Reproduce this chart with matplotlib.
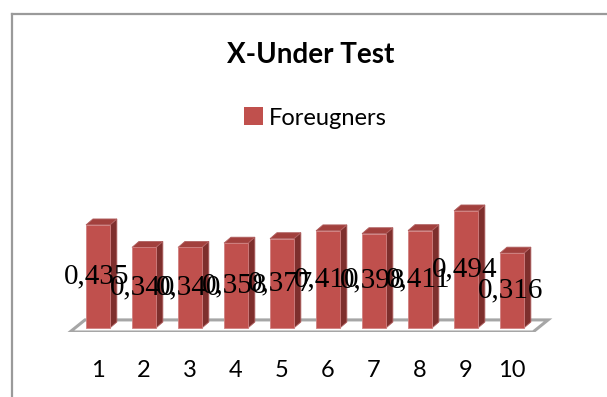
import matplotlib.pyplot as plt
from matplotlib.patches import Polygon, Patch
from matplotlib.lines import Line2D
import numpy as np

# data
categories = ["1", "2", "3", "4", "5", "6", "7", "8", "9", "10"]
values = [0.435, 0.340, 0.340, 0.358, 0.377, 0.410, 0.398, 0.411, 0.494, 0.316]
series_name = "Foreugners"
title = "X-Under Test"

# 3d look
bar_w = 0.52
depth_x = 0.15
depth_y = 0.025
front_col = "#C0504D"
top_col = "#A2403D"
side_col = "#7E2F2D"

W, H = 607, 397
fig = plt.figure(figsize=(W / 100, H / 100), dpi=100)
fig.patch.set_facecolor("white")

# axes starts at the front edge of the floor
ax = fig.add_axes([0, 65 / H, 1, 1 - 65 / H])
ax.set_xlim(-1.130, 12.065)
ax.set_ylim(-0.017, 1.384)
for s in ax.spines.values():
    s.set_visible(False)
ax.set_yticks([])

x = np.arange(1, len(values) + 1)

# floor
fl, fr = 0.391, 10.457
fy0, fdx, fdy = -0.017, 0.326, 0.051
floor = Polygon([(fl, fy0), (fr, fy0), (fr + fdx, fy0 + fdy), (fl + fdx, fy0 + fdy)],
                closed=True, facecolor="white", edgecolor="#A6A6A6", lw=2.2, zorder=1)
ax.add_patch(floor)

for xi, v in zip(x, values):
    l, r = xi - bar_w / 2, xi + bar_w / 2
    front = Polygon([(l, 0), (r, 0), (r, v), (l, v)], closed=True,
                    facecolor=front_col, edgecolor="#D08080", lw=0.6, zorder=3)
    top = Polygon([(l, v), (r, v), (r + depth_x, v + depth_y), (l + depth_x, v + depth_y)],
                  closed=True, facecolor=top_col, edgecolor="#B06060", lw=0.6, zorder=3)
    side = Polygon([(r, 0), (r + depth_x, depth_y), (r + depth_x, v + depth_y), (r, v)],
                   closed=True, facecolor=side_col, edgecolor="#B06060", lw=0.6, zorder=3)
    ax.add_patch(side)
    ax.add_patch(top)
    ax.add_patch(front)

# value labels, comma decimals, sitting at mid height
for xi, v in zip(x, values):
    ax.text(xi - 0.03, v / 2, f"{v:.3f}".replace(".", ","), ha="center", va="center",
            fontsize=21, family="Liberation Serif", color="black", zorder=5)

ax.set_xticks(x)
ax.set_xticklabels(categories, fontsize=17, family="Lato")
ax.tick_params(axis="x", length=0, pad=20)

fig.text(311 / W, 1 - 55 / H, title, ha="center", va="center",
         fontsize=20, fontweight="bold", family="Lato")

fig.legend(handles=[Patch(facecolor=front_col, label=series_name)],
           loc="center", bbox_to_anchor=(315 / W, 1 - 118 / H), frameon=False,
           prop={"family": "Lato", "size": 17}, handlelength=0.8, handleheight=0.8,
           handletextpad=0.25)

# chart frame (top and left edges)
fig.add_artist(Line2D([12.5 / W, 1], [1 - 13.5 / H, 1 - 13.5 / H], color="#9A9A9A", lw=1.6))
fig.add_artist(Line2D([12.5 / W, 12.5 / W], [0, 1 - 13.5 / H], color="#9A9A9A", lw=1.6))

fig.savefig("out.png", dpi=100)
